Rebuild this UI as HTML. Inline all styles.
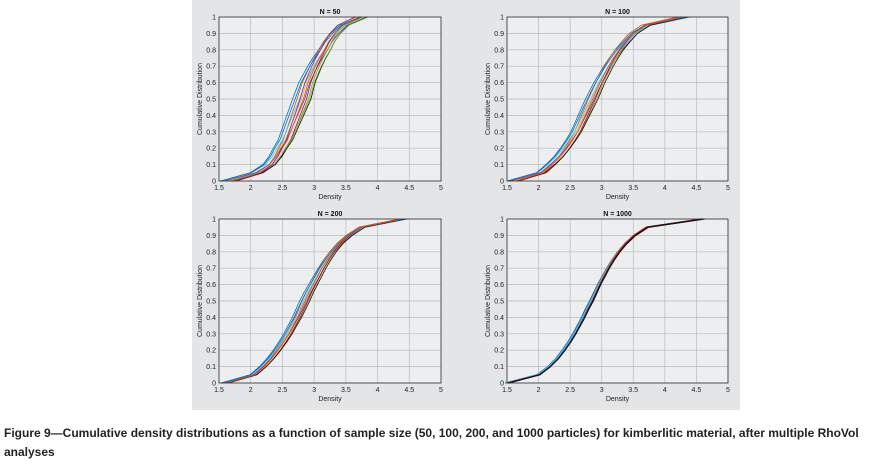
<!DOCTYPE html>
<html><head><meta charset="utf-8"><style>
body{margin:0;width:892px;height:470px;background:#fff;overflow:hidden;font-family:"Liberation Sans",sans-serif}
#bg{position:absolute;left:192px;top:0;width:548px;height:410px;background:#e3e5e6}
#cap{position:absolute;left:4px;top:424px;font-size:12px;font-weight:bold;line-height:19px;color:#222;width:880px}
svg{position:absolute;left:0;top:0}
</style></head><body>
<div id="bg"></div>
<svg id="chart" width="892" height="470"></svg>
<div id="cap">Figure 9—Cumulative density distributions as a function of sample size (50, 100, 200, and 1000 particles) for kimberlitic material, after multiple RhoVol analyses</div>
<script>
const probs = [0,0.05,0.1,0.15,0.2,0.25,0.3,0.35,0.4,0.45,0.5,0.55,0.6,0.65,0.7,0.75,0.8,0.85,0.9,0.95,1];
const base50 = [1.65,2.1,2.3,2.4,2.47,2.55,2.6,2.65,2.7,2.75,2.8,2.84,2.88,2.94,3.0,3.07,3.15,3.22,3.32,3.45,3.75];
const base100 = [1.6,2.05,2.2,2.33,2.43,2.52,2.6,2.66,2.72,2.78,2.84,2.9,2.96,3.03,3.1,3.18,3.27,3.38,3.5,3.7,4.3];
const base200 = [1.6,2.05,2.2,2.32,2.42,2.51,2.59,2.66,2.73,2.79,2.85,2.91,2.98,3.05,3.12,3.2,3.29,3.4,3.55,3.75,4.4];
const base1000 = [1.5,2.0,2.17,2.3,2.4,2.49,2.57,2.64,2.71,2.77,2.84,2.9,2.96,3.03,3.1,3.18,3.27,3.38,3.52,3.72,4.6];
const shifts50 = [-0.14,-0.07,0,0.05,0.11,-0.03,0.08,0.15,-0.1,0.03,0.13,-0.02];
const tilts50 = [0.1,-0.12,0.05,0.15,-0.08,0.2,-0.15,0.02,0.12,-0.05,0.08,-0.2];
const shifts100 = [-0.1,-0.05,0,0.04,0.08,-0.02,0.06,0.1,-0.07,0.02];
const tilts100 = [0.08,-0.1,0.04,0.12,-0.06,0.15,-0.1,0.02,0.1,-0.04];
const shifts200 = [-0.08,-0.04,0,0.03,0.06,-0.02,0.05,0.08,-0.05,0.01];
const tilts200 = [0.05,-0.06,0.02,0.07,-0.04,0.08,-0.05,0.01,0.06,-0.03];
const shifts1000 = [-0.03,-0.015,0,0.01,0.02,-0.01,0.015,0.025];
const tilts1000 = [0.02,-0.02,0.01,0.03,-0.01,0.02,-0.03,0];
const xTicks = [1.5,2,2.5,3,3.5,4,4.5,5];
const yTicks = [0,0.1,0.2,0.3,0.4,0.5,0.6,0.7,0.8,0.9,1];
const titles = ["N = 50","N = 100","N = 200","N = 1000"];
const colors = ["#0072bd","#d95319","#edb120","#7e2f8e","#77ac30","#4dbeee","#a2142f","#111111","#0072bd","#d95319","#77ac30","#7e2f8e"];
const NS="http://www.w3.org/2000/svg";
const svg=document.getElementById('chart');
function mk(tag,attrs,parent){const e=document.createElementNS(NS,tag);for(const k in attrs)e.setAttribute(k,attrs[k]);(parent||svg).appendChild(e);return e;}
const panels=[
 {x0:219,x1:441,y0:181,y1:17,base:base50,sh:shifts50,tl:tilts50,w:0.8},
 {x0:507,x1:728,y0:181,y1:17,base:base100,sh:shifts100,tl:tilts100,w:0.8},
 {x0:219,x1:441,y0:383,y1:219,base:base200,sh:shifts200,tl:tilts200,w:0.8},
 {x0:507,x1:728,y0:383,y1:219,base:base1000,sh:shifts1000,tl:tilts1000,w:1.3}];
panels.forEach((p,pi)=>{
 const g=mk('g',{});
 
 
 const sx=v=>p.x0+(v-1.5)/3.5*(p.x1-p.x0);
 const sy=v=>p.y0+v*(p.y1-p.y0);
 const r=mk('rect',{x:p.x0,y:p.y1,width:p.x1-p.x0,height:p.y0-p.y1,fill:'#eceeef'},g);
 
 
 xTicks.forEach(t=>{
  mk('line',{x1:sx(t),x2:sx(t),y1:p.y0,y2:p.y1,stroke:'#b8bbbd','stroke-width':0.7},g);
  const tx=mk('text',{x:sx(t),y:p.y0+9,'font-size':7,'text-anchor':'middle',fill:'#222'},g);
  tx.textContent=t;
  
  
 });
 yTicks.forEach(t=>{
  mk('line',{x1:p.x0,x2:p.x1,y1:sy(t),y2:sy(t),stroke:'#b8bbbd','stroke-width':0.7},g);
  const ty=mk('text',{x:p.x0-3,y:sy(t)+2.5,'font-size':7,'text-anchor':'end',fill:'#222'},g);
  ty.textContent=t;
  
  
 });
 p.sh.forEach((s,i)=>{
  let d='';
  probs.forEach((pr,k)=>{
   const b=p.base[k];
   const x=sx(b+s*(1-Math.abs(pr-0.5))+p.tl[i]*(b-2.8)*0.5);
   d+=(k?'L':'M')+x+','+sy(pr);
  });
  const path=mk('path',{d:d,fill:'none',stroke:colors[i%colors.length],'stroke-width':p.w,'stroke-linejoin':'round'},g);
  
  
 });
 mk('rect',{x:p.x0,y:p.y1,width:p.x1-p.x0,height:p.y0-p.y1,fill:'none',stroke:'#333','stroke-width':0.8},g);
 const ti=mk('text',{x:(p.x0+p.x1)/2,y:p.y1-3,'font-size':7,'font-weight':'bold','text-anchor':'middle',fill:'#111'},g);
 ti.textContent=titles[pi];
 
 
 const xl=mk('text',{x:(p.x0+p.x1)/2,y:p.y0+18,'font-size':7,'text-anchor':'middle',fill:'#222'},g);
 xl.textContent='Density';
 
 
 const cy=(p.y0+p.y1)/2;
 const yl=mk('text',{x:p.x0-17,y:cy,'font-size':7,'text-anchor':'middle',fill:'#222',transform:`rotate(-90 ${p.x0-17} ${cy})`},g);
 yl.textContent='Cumulative Distribution';
 
 
});
</script>
</body></html>
